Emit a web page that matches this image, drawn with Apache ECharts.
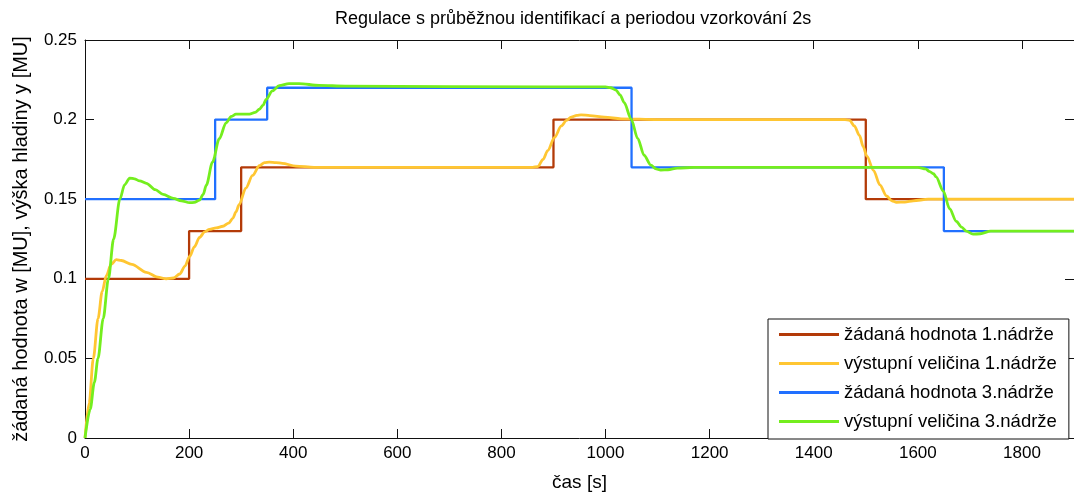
<!DOCTYPE html>
<html>
<head>
<meta charset="utf-8">
<script src="https://cdn.jsdelivr.net/npm/echarts@6/dist/echarts.min.js"></script>
<style>
  html, body { margin: 0; padding: 0; background: #fff; }
  #chart { width: 1074px; height: 497px; }
</style>
</head>
<body>
<div id="chart"></div>
<script>
// zadane hodnoty (skoky) - casy zmen a hodnoty
var spTimes1 = [0, 200, 300, 900, 1500, 1900];
var spVals1 = [0.10, 0.13, 0.17, 0.20, 0.15];
var spTimes3 = [0, 250, 350, 1050, 1650, 1900];
var spVals3 = [0.15, 0.20, 0.22, 0.17, 0.13];

// vystupni velicina 1. nadrze
var outTime1 = [0, 8, 16, 25, 33, 41, 50, 60, 70, 90, 118, 140, 156, 170, 182, 192, 201, 210, 220, 230,
  239, 252, 265, 276, 284, 290, 296, 309, 322, 335, 345, 354, 367, 379, 405, 440, 600, 860, 870, 880,
  889, 902, 915, 925, 934, 945, 953, 970, 998, 1030, 1100, 1460, 1469, 1478, 1488, 1495, 1502, 1515, 1527, 1540,
  1550, 1559, 1575, 1591, 1620, 1900];
var outVals1 = [0, 0.022, 0.05, 0.075, 0.092, 0.102, 0.109, 0.112, 0.1115, 0.109, 0.104, 0.101, 0.100, 0.1005, 0.103, 0.108, 0.114, 0.120, 0.126, 0.1295,
  0.131, 0.132, 0.133, 0.135, 0.138, 0.142, 0.1465, 0.157, 0.165, 0.171, 0.173, 0.1733, 0.173, 0.1725, 0.1708, 0.170, 0.170, 0.170, 0.1705, 0.175,
  0.1805, 0.1888, 0.196, 0.1995, 0.2015, 0.2027, 0.203, 0.2025, 0.2015, 0.2005, 0.200, 0.200, 0.1995, 0.196, 0.190, 0.183, 0.177, 0.168, 0.159, 0.152,
  0.149, 0.148, 0.1482, 0.149, 0.150, 0.150];

// vystupni velicina 3. nadrze
var outTime3 = [0, 10, 18, 25, 35, 45, 55, 67, 76, 86, 95, 105, 118, 135, 150, 170, 185, 201, 210, 220,
  227, 233, 245, 258, 271, 281, 290, 316, 327, 335, 342, 348, 360, 373, 392, 411, 450, 500, 900, 1000,
  1010, 1020, 1028, 1036, 1049, 1062, 1074, 1087, 1097, 1106, 1120, 1138, 1170, 1600, 1615, 1622, 1630, 1635, 1649, 1661,
  1674, 1684, 1693, 1706, 1720, 1740, 1900];
var outVals3 = [0, 0.018, 0.035, 0.05, 0.075, 0.10, 0.125, 0.150, 0.159, 0.1633, 0.1628, 0.1615, 0.160, 0.156, 0.153, 0.1505, 0.149, 0.1478, 0.148, 0.1494,
  0.153, 0.1588, 0.1733, 0.188, 0.198, 0.202, 0.2034, 0.2034, 0.2045, 0.2065, 0.209, 0.2127, 0.218, 0.2213, 0.2226, 0.2226, 0.2215, 0.221, 0.2205, 0.2205,
  0.220, 0.2185, 0.2155, 0.2106, 0.2005, 0.188, 0.1776, 0.1714, 0.169, 0.1683, 0.1685, 0.1695, 0.170, 0.170, 0.169, 0.1675, 0.166, 0.164, 0.155, 0.144,
  0.136, 0.1325, 0.130, 0.128, 0.1283, 0.130, 0.130];

var seriesNames = ['žádaná hodnota 1.nádrže', 'výstupní veličina 1.nádrže', 'žádaná hodnota 3.nádrže', 'výstupní veličina 3.nádrže'];
var colors = ['#B33A08', '#FFC632', '#2170FF', '#74EE1E'];

function stepData(times, vals) {
  var d = [];
  for (var i = 0; i < vals.length; i++) {
    d.push([times[i], vals[i]]);
    d.push([times[i + 1], vals[i]]);
  }
  return d;
}
function pairs(t, v) {
  return t.map(function (x, i) { return [x, v[i]]; });
}

var font = 'Liberation Sans, Arial, sans-serif';
function axisBase() {
  return {
    type: 'value',
    splitLine: { show: false },
    axisLine: { show: true, onZero: false, lineStyle: { color: '#111', width: 1 } },
    axisTick: { show: true, inside: true, length: 9, lineStyle: { color: '#111' } }
  };
}

var myChart = echarts.init(document.getElementById('chart'));
var option = {
  animation: false,
  color: colors,
  title: {
    text: 'Regulace s průběžnou identifikací a periodou vzorkování 2s',
    left: 330,
    top: 5,
    textStyle: { fontFamily: font, fontSize: 18, fontWeight: 'normal', color: '#000' }
  },
  legend: {
    orient: 'vertical',
    left: 768,
    top: 319,
    padding: [6, 12, 8, 11],
    itemGap: 10,
    itemWidth: 60,
    itemHeight: 3,
    icon: 'rect',
    selectedMode: false,
    borderColor: '#111',
    borderWidth: 1,
    backgroundColor: '#fff',
    textStyle: { fontFamily: font, fontSize: 18.5, color: '#000' },
    data: seriesNames
  },
  grid: { left: 85, top: 40, right: -4, bottom: 55 },
  xAxis: [
    Object.assign(axisBase(), {
      position: 'bottom', min: 0, max: 1900, interval: 200,
      name: 'čas [s]', nameLocation: 'middle', nameGap: 35,
      nameTextStyle: { fontFamily: font, fontSize: 19, color: '#000' },
      axisLabel: {
        margin: 7, showMaxLabel: false, fontFamily: font, fontSize: 17, color: '#000',
        formatter: function (v) { return String(v); }
      }
    }),
    Object.assign(axisBase(), {
      position: 'top', min: 0, max: 1900, interval: 200,
      axisLabel: { show: false }
    })
  ],
  yAxis: [
    Object.assign(axisBase(), {
      position: 'left', min: 0, max: 0.25, interval: 0.05,
      name: 'žádaná hodnota w [MU], výška hladiny y [MU]', nameLocation: 'middle', nameGap: 54,
      nameTextStyle: { fontFamily: font, fontSize: 20, color: '#000' },
      axisLabel: { margin: 8, fontFamily: font, fontSize: 17, color: '#000' }
    }),
    Object.assign(axisBase(), {
      position: 'right', min: 0, max: 0.25, interval: 0.05,
      axisLabel: { show: false }
    })
  ],
  series: [
    { name: seriesNames[0], type: 'line', data: stepData(spTimes1, spVals1), showSymbol: false, lineStyle: { width: 2.3 } },
    { name: seriesNames[1], type: 'line', data: pairs(outTime1, outVals1), showSymbol: false, smooth: 0.3, smoothMonotone: 'x', lineStyle: { width: 2.8 } },
    { name: seriesNames[2], type: 'line', data: stepData(spTimes3, spVals3), showSymbol: false, lineStyle: { width: 2.3 } },
    { name: seriesNames[3], type: 'line', data: pairs(outTime3, outVals3), showSymbol: false, smooth: 0.3, smoothMonotone: 'x', lineStyle: { width: 2.8 } }
  ]
};
myChart.setOption(option);
window.addEventListener('resize', function () { myChart.resize(); });
</script>
</body>
</html>
